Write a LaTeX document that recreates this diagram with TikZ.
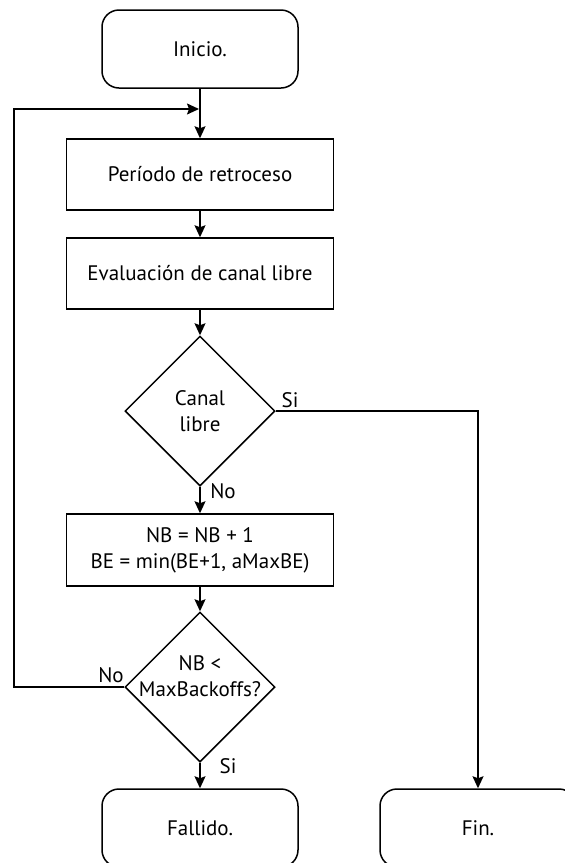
\documentclass[tikz,border=0pt]{standalone}
\usepackage{fontspec}
\setmainfont{PT Sans}
\usetikzlibrary{shapes.geometric,arrows.meta}
\begin{document}
\begin{tikzpicture}[x=1pt,y=-1pt,
  every node/.style={font=\fontsize{21}{26}\selectfont},
  terminal/.style={draw,line width=1.5pt,rounded corners=17pt,minimum width=196pt,minimum height=78pt,inner sep=0pt},
  process/.style={draw,line width=1.5pt,minimum width=267pt,minimum height=71pt,inner sep=0pt,align=center},
  decision/.style={draw,diamond,line width=1.5pt,minimum width=150pt,minimum height=150pt,inner sep=0pt},
  flow/.style={line width=1.5pt,-{Stealth[length=12pt,width=11pt,inset=2pt]}},
  lbl/.style={inner sep=0pt}]
\clip (0,0) rectangle (565,863);
\node[terminal] (inicio) at (200,49) {Inicio.};
\node[process] (p1) at (200,174.5) {Período de retroceso};
\node[process] (p2) at (200,273.5) {Evaluación de canal libre};
\node[decision] (d1) at (200,411) {};
\node[align=center,inner sep=0pt] (t1) at (200,411) {Canal\\libre};
\node[process,minimum height=72pt] (p3) at (200,550) {NB = NB + 1\\BE = min(BE+1, aMaxBE)};
\node[decision] (d2) at (200,687) {};
\node[align=center,inner sep=0pt] (t2) at (200,676) {NB <\\MaxBackoffs?};
\node[terminal] (fallido) at (200,828) {Fallido.};
\node[terminal] (fin) at (478,828) {Fin.};
\coordinate (loopL) at (14,109);
\coordinate (join) at (199,109);
\draw[flow] (inicio.south) -- (p1.north);
\draw[flow] (d2.west) -| (loopL) -- (join);
\draw[flow] (p1.south) -- (p2.north);
\draw[flow] (p2.south) -- (d1.north);
\draw[flow] (d1.east) -| (fin.north);
\draw[flow] (d1.south) -- (p3.north);
\draw[flow] (p3.south) -- (d2.north);
\draw[flow] (d2.south) -- (fallido.north);
\node[lbl] (si1) at (290,400) {Si};
\node[lbl] (no1) at (223,491) {No};
\node[lbl] (no2) at (111,675) {No};
\node[lbl] (si2) at (228,766) {Si};
\end{tikzpicture}
\end{document}
